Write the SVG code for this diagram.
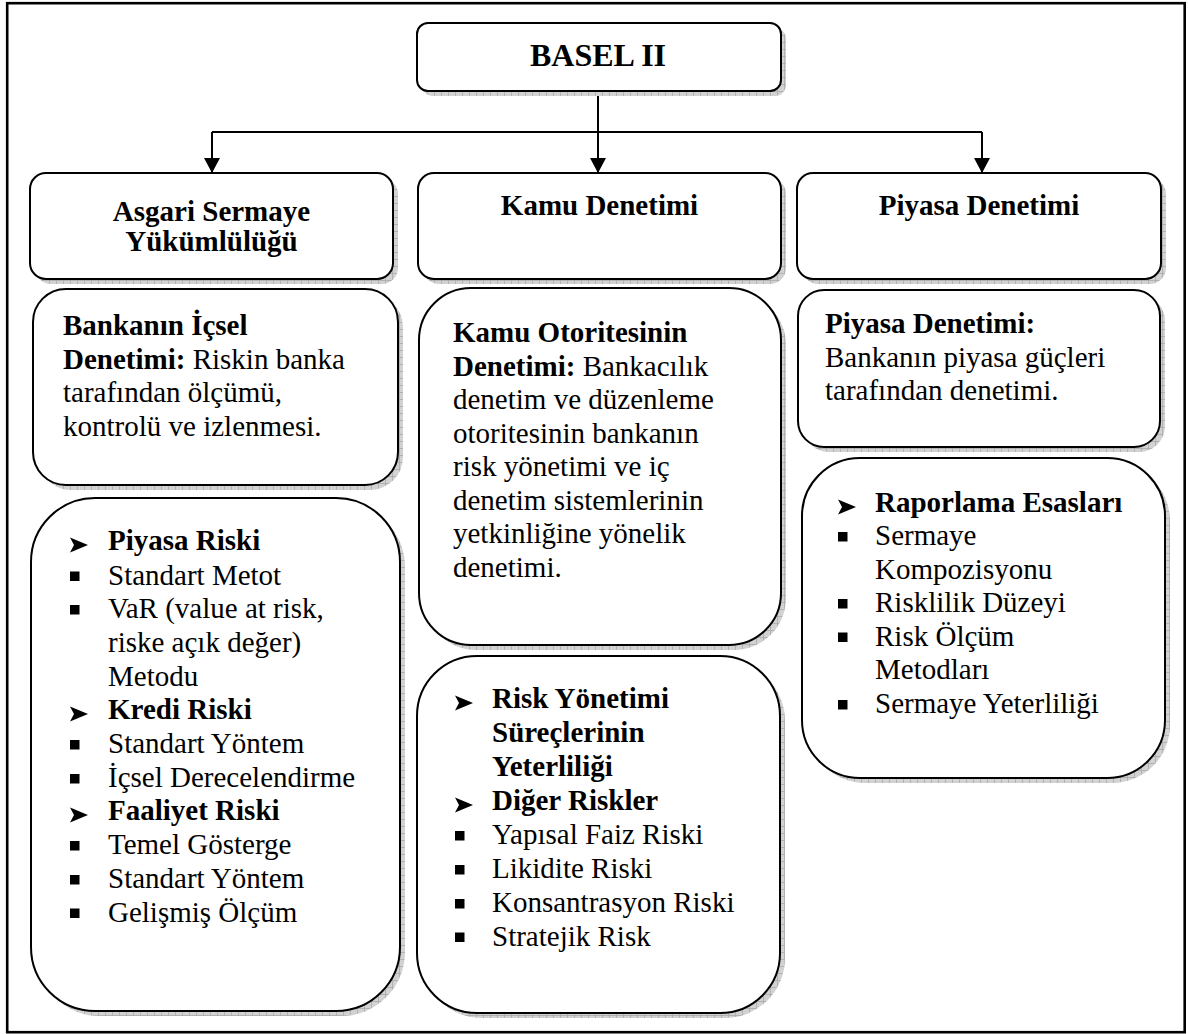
<svg xmlns="http://www.w3.org/2000/svg" width="1188" height="1034" viewBox="0 0 1188 1034">
  <defs>
    <!-- fine grid texture used for the drop shadows -->
    <pattern id="shadeGrid" width="7" height="7" patternUnits="userSpaceOnUse">
      <rect width="7" height="7" fill="#d2d2d2"/>
      <path d="M0 0.5H7M0.5 0V7" stroke="#a9a9a9" stroke-width="0.8" fill="none"/>
    </pattern>
    <marker id="arrowDown" viewBox="0 0 15 16" refX="14" refY="8" markerWidth="15" markerHeight="16" markerUnits="userSpaceOnUse" orient="auto">
      <path d="M0 0L15 8L0 16Z" fill="#000"/>
    </marker>
    <!-- list bullets -->
    <path id="chev" d="M0 -0.5L18 7L0 14.5L4 7Z" fill="#000"/>
    <rect id="sq" width="9.5" height="9.5" fill="#000"/>
  </defs>
  <style>
    .box { fill: #fff; stroke: #000; stroke-width: 2; }
    .shadow { fill: url(#shadeGrid); }
    .t { font-family: "Liberation Serif", "Times New Roman", serif; font-size: 29px; fill: #000; }
    .b { font-weight: bold; }
    .c { text-anchor: middle; }
    .conn { stroke: #000; stroke-width: 2; fill: none; }
  </style>

  <rect width="1188" height="1034" fill="#fff"/>
  <!-- outer frame -->
  <rect x="7.2" y="3.2" width="1177.5" height="1029" fill="none" stroke="#000" stroke-width="2.6"/>

  <!-- connectors -->
  <g id="connectors">
    <path class="conn" d="M598 91V132"/>
    <path class="conn" d="M212 132H982"/>
    <path class="conn" d="M212 132V172" marker-end="url(#arrowDown)"/>
    <path class="conn" d="M598 132V172" marker-end="url(#arrowDown)"/>
    <path class="conn" d="M982 132V172" marker-end="url(#arrowDown)"/>
  </g>

  <!-- root -->
  <g id="basel">
    <rect class="shadow" x="422" y="28" width="364" height="68" rx="11"/>
    <rect class="box" x="417" y="23" width="364" height="68" rx="11"/>
    <text class="t b c" x="598" y="66" style="font-size:32px">BASEL II</text>
  </g>

  <!-- pillar headers -->
  <g id="asgari">
    <rect class="shadow" x="35" y="178" width="363" height="106" rx="16"/>
    <rect class="box" x="30" y="173" width="363" height="106" rx="16"/>
    <text class="t b c" x="211.5" y="221">Asgari Sermaye</text>
    <text class="t b c" x="211.5" y="251">Yükümlülüğü</text>
  </g>
  <g id="kamu">
    <rect class="shadow" x="423" y="178" width="363" height="106" rx="16"/>
    <rect class="box" x="418" y="173" width="363" height="106" rx="16"/>
    <text class="t b c" x="599.5" y="215">Kamu Denetimi</text>
  </g>
  <g id="piyasa">
    <rect class="shadow" x="802" y="178" width="364" height="106" rx="16"/>
    <rect class="box" x="797" y="173" width="364" height="106" rx="16"/>
    <text class="t b c" x="979" y="215">Piyasa Denetimi</text>
  </g>

  <!-- descriptions -->
  <g id="icsel">
    <rect class="shadow" x="38" y="294" width="365" height="196" rx="33"/>
    <rect class="box" x="33" y="289" width="365" height="196" rx="33"/>
    <text class="t" x="63" y="335"><tspan class="b">Bankanın İçsel</tspan></text>
    <text class="t" x="63" y="368.5"><tspan class="b">Denetimi:</tspan> Riskin banka</text>
    <text class="t" x="63" y="402">tarafından ölçümü,</text>
    <text class="t" x="63" y="435.5">kontrolü ve izlenmesi.</text>
  </g>
  <g id="otorite">
    <rect class="shadow" x="424" y="293" width="362" height="357" rx="52"/>
    <rect class="box" x="419" y="288" width="362" height="357" rx="52"/>
    <text class="t" x="453" y="342"><tspan class="b">Kamu Otoritesinin</tspan></text>
    <text class="t" x="453" y="375.5"><tspan class="b">Denetimi:</tspan> Bankacılık</text>
    <text class="t" x="453" y="409">denetim ve düzenleme</text>
    <text class="t" x="453" y="442.5">otoritesinin bankanın</text>
    <text class="t" x="453" y="476">risk yönetimi ve iç</text>
    <text class="t" x="453" y="509.5">denetim sistemlerinin</text>
    <text class="t" x="453" y="543">yetkinliğine yönelik</text>
    <text class="t" x="453" y="576.5">denetimi.</text>
  </g>
  <g id="piyasaGuc">
    <rect class="shadow" x="803" y="295" width="362" height="157" rx="26"/>
    <rect class="box" x="798" y="290" width="362" height="157" rx="26"/>
    <text class="t" x="825" y="333"><tspan class="b">Piyasa Denetimi:</tspan></text>
    <text class="t" x="825" y="366.5">Bankanın piyasa güçleri</text>
    <text class="t" x="825" y="400">tarafından denetimi.</text>
  </g>

  <!-- risk lists -->
  <g id="riskListesi">
    <rect class="shadow" x="36" y="503" width="369" height="513" rx="64"/>
    <rect class="box" x="31" y="498" width="369" height="513" rx="64"/>
    <use href="#chev" x="70" y="538"/>
    <text class="t b" x="108" y="550">Piyasa Riski</text>
    <use href="#sq" x="70" y="571.5"/>
    <text class="t" x="108" y="584.5">Standart Metot</text>
    <use href="#sq" x="70" y="605"/>
    <text class="t" x="108" y="618">VaR (value at risk,</text>
    <text class="t" x="108" y="652">riske açık değer)</text>
    <text class="t" x="108" y="685.5">Metodu</text>
    <use href="#chev" x="70" y="707"/>
    <text class="t b" x="108" y="719">Kredi Riski</text>
    <use href="#sq" x="70" y="740"/>
    <text class="t" x="108" y="753">Standart Yöntem</text>
    <use href="#sq" x="70" y="774"/>
    <text class="t" x="108" y="787">İçsel Derecelendirme</text>
    <use href="#chev" x="70" y="808"/>
    <text class="t b" x="108" y="820">Faaliyet Riski</text>
    <use href="#sq" x="70" y="841"/>
    <text class="t" x="108" y="854">Temel Gösterge</text>
    <use href="#sq" x="70" y="875"/>
    <text class="t" x="108" y="888">Standart Yöntem</text>
    <use href="#sq" x="70" y="908.5"/>
    <text class="t" x="108" y="921.5">Gelişmiş Ölçüm</text>
  </g>
  <g id="digerRiskler">
    <rect class="shadow" x="422" y="661" width="363" height="357" rx="60"/>
    <rect class="box" x="417" y="656" width="363" height="357" rx="60"/>
    <use href="#chev" x="455" y="696"/>
    <text class="t b" x="492" y="708">Risk Yönetimi</text>
    <text class="t b" x="492" y="742">Süreçlerinin</text>
    <text class="t b" x="492" y="776">Yeterliliği</text>
    <use href="#chev" x="455" y="798"/>
    <text class="t b" x="492" y="810">Diğer Riskler</text>
    <use href="#sq" x="455" y="831"/>
    <text class="t" x="492" y="844">Yapısal Faiz Riski</text>
    <use href="#sq" x="455" y="865"/>
    <text class="t" x="492" y="878">Likidite Riski</text>
    <use href="#sq" x="455" y="899"/>
    <text class="t" x="492" y="912">Konsantrasyon Riski</text>
    <use href="#sq" x="455" y="932.5"/>
    <text class="t" x="492" y="945.5">Stratejik Risk</text>
  </g>
  <g id="raporlama">
    <rect class="shadow" x="807" y="463" width="363" height="320" rx="58"/>
    <rect class="box" x="802" y="458" width="363" height="320" rx="58"/>
    <use href="#chev" x="838" y="500"/>
    <text class="t b" x="875" y="512">Raporlama Esasları</text>
    <use href="#sq" x="838" y="532"/>
    <text class="t" x="875" y="545">Sermaye</text>
    <text class="t" x="875" y="578.5">Kompozisyonu</text>
    <use href="#sq" x="838" y="599"/>
    <text class="t" x="875" y="612">Risklilik Düzeyi</text>
    <use href="#sq" x="838" y="632.5"/>
    <text class="t" x="875" y="645.5">Risk Ölçüm</text>
    <text class="t" x="875" y="679">Metodları</text>
    <use href="#sq" x="838" y="700"/>
    <text class="t" x="875" y="713">Sermaye Yeterliliği</text>
  </g>
</svg>
